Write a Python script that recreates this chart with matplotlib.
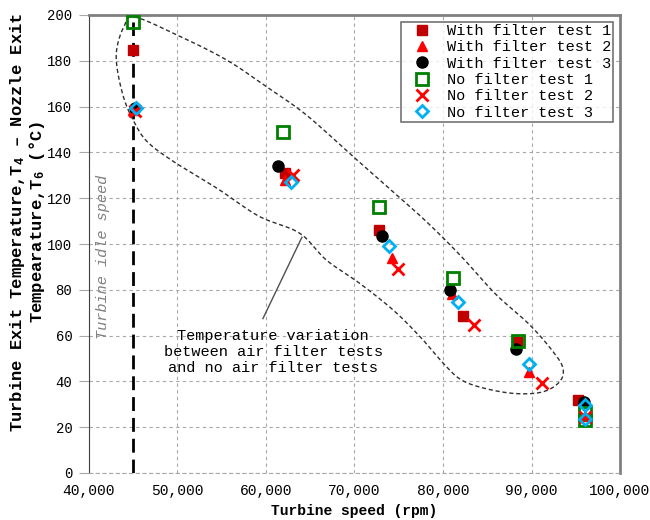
import numpy as np
import matplotlib
matplotlib.use("Agg")
import matplotlib.pyplot as plt
from matplotlib.ticker import FuncFormatter

plt.rcParams['font.family'] = ['Liberation Mono', 'DejaVu Sans']
plt.rcParams['mathtext.fontset'] = 'custom'
plt.rcParams['mathtext.rm'] = 'Liberation Mono'
plt.rcParams['mathtext.bf'] = 'Liberation Mono:bold'
plt.rcParams['mathtext.it'] = 'Liberation Mono:italic'

# ---- data ----
wf1_x = [45000, 62200, 72800, 82300, 88400, 95300]
wf1_y = [184.5, 131, 106, 68.5, 57, 32]
wf2_x = [45000, 62200, 74200, 81000, 89700, 96000]
wf2_y = [158.5, 128, 94, 78, 44, 25]
wf3_x = [45200, 61400, 73100, 80800, 88300, 95900]
wf3_y = [159.5, 134, 103.5, 80, 54, 31]
nf1_x = [45000, 61900, 72800, 81100, 88500, 96000, 96000]
nf1_y = [197, 149, 116, 85, 57.5, 26, 23]
nf2_x = [45200, 63000, 74900, 83500, 91200, 96000]
nf2_y = [158, 130, 89, 64.5, 39.5, 24.5]
nf3_x = [45300, 62800, 73900, 81700, 89700, 96000, 96000]
nf3_y = [159.5, 127, 99, 74.5, 47.5, 29.5, 23.5]

idle_speed = 45000
idle_top = 197

x_ticks = [40000, 50000, 60000, 70000, 80000, 90000, 100000]
y_ticks = [0, 20, 40, 60, 80, 100, 120, 140, 160, 180, 200]

fig = plt.figure(figsize=(6.5, 5.2), dpi=100)
ax = fig.add_axes([89/650, 1-473/520, (620-89)/650, (473-15)/520])

ax.set_xlim(40000, 100000)
ax.set_ylim(0, 200)
ax.set_xticks(x_ticks)
ax.set_yticks(y_ticks)
ax.xaxis.set_major_formatter(FuncFormatter(lambda v, p: f"{int(v):,}"))
ax.grid(True, color='#a8a8a8', linestyle=(0, (3, 3)), linewidth=0.8)
ax.set_axisbelow(True)
ax.tick_params(axis='x', labelsize=10.5, length=0, pad=8)
ax.tick_params(axis='y', labelsize=10, length=7, width=0.8, color='#a8a8a8', pad=5)
for s in ['top', 'right']:
    ax.spines[s].set_color('#808080')
    ax.spines[s].set_linewidth(2)
ax.spines['left'].set_color('#404040')
ax.spines['left'].set_linewidth(0.8)
ax.spines['left'].set_linestyle((0, (1, 1)))
ax.spines['bottom'].set_color('#a8a8a8')
ax.spines['bottom'].set_linewidth(0.8)
ax.spines['bottom'].set_linestyle((0, (3, 3)))

# idle line
ax.plot([idle_speed, idle_speed], [0, idle_top], color='black', lw=2,
        linestyle=(0, (5, 2.5)), zorder=2)
ax.text(41600, 94.3, 'Turbine idle speed', rotation=90, style='italic',
        color='#808080', fontsize=11, ha='center', va='center')

ax.plot(wf1_x, wf1_y, 's', color='#C00000', ms=7, label='With filter test 1', zorder=3)
ax.plot(wf2_x, wf2_y, '^', color='#FF0000', ms=7, label='With filter test 2', zorder=3)
ax.plot(wf3_x, wf3_y, 'o', color='black', ms=8, label='With filter test 3', zorder=3)
ax.plot(nf1_x, nf1_y, 's', mfc='none', mec='#008000', mew=2, ms=9, label='No filter test 1', zorder=3)
ax.plot(nf2_x, nf2_y, 'x', color='#FF0000', mew=2, ms=8, label='No filter test 2', zorder=3)
ax.plot(nf3_x, nf3_y, 'D', mfc='none', mec='#00B0F0', mew=2, ms=6.5, label='No filter test 3', zorder=4)

leg = ax.legend(loc='upper right', fontsize=11, frameon=True, fancybox=False,
                borderaxespad=0.45, handletextpad=0.35, labelspacing=0.15,
                borderpad=0.15, handlelength=2.5, numpoints=1)
leg.get_frame().set_edgecolor('#505050')
leg.get_frame().set_linewidth(1.2)

# enclosing dashed loop (annotation outline, in axes-fraction via pixel calibration)
loop = np.array([(130, 50), (250, 100), (400, 175), (520, 255), (640, 340), (775, 460),
                 (900, 570), (1000, 660), (1100, 760), (1200, 870), (1300, 960),
                 (1370, 1040), (1400, 1090), (1390, 1130), (1340, 1160), (1260, 1165),
                 (1170, 1150), (1100, 1125), (1050, 1080), (980, 1000), (900, 920),
                 (800, 840), (700, 770), (620, 690), (500, 640), (380, 560), (250, 480),
                 (170, 420), (130, 360), (100, 290), (80, 200), (80, 140), (100, 80)], float)
px = 90 + loop[:, 0] / 2.96
py = loop[:, 1] / 2.96
fx = (px - 89) / (620 - 89)
fy = (473 - py) / (473 - 15)

def catmull(xs, ys, n=20):
    P = np.column_stack([xs, ys])
    N = len(P)
    out = []
    for i in range(N):
        p0, p1, p2, p3 = P[(i-1) % N], P[i], P[(i+1) % N], P[(i+2) % N]
        t = np.linspace(0, 1, n, endpoint=False)[:, None]
        pts = 0.5 * ((2*p1) + (-p0 + p2)*t + (2*p0 - 5*p1 + 4*p2 - p3)*t**2 + (-p0 + 3*p1 - 3*p2 + p3)*t**3)
        out.append(pts)
    out = np.vstack(out)
    return np.vstack([out, out[:1]])

cl = catmull(fx, fy)
ax.plot(cl[:, 0], cl[:, 1], transform=ax.transAxes, color='#303030', lw=1,
        linestyle=(0, (3, 2)), zorder=2)

# leader line
lx = (np.array([262.9, 301.9]) - 89) / (620 - 89)
ly = (473 - np.array([318.6, 237.3])) / (473 - 15)
ax.plot(lx, ly, transform=ax.transAxes, color='#505050', lw=1, zorder=2)
ax.text((273 - 89) / (620 - 89), (473 - 352) / (473 - 15),
        'Temperature variation\nbetween air filter tests\nand no air filter tests',
        transform=ax.transAxes, ha='center', va='center', multialignment='center',
        fontsize=11, linespacing=1.15)

ax.set_xlabel('Turbine speed (rpm)', fontsize=10.5, fontweight='bold', labelpad=4)
ax.set_ylabel('Turbine Exit Temperature,T$_\\mathbf{4}$ – Nozzle Exit\nTempearature,T$_\\mathbf{6}$ (°C)',
              fontsize=12.3, fontweight='bold', linespacing=1.0)
ax.yaxis.set_label_coords((47 - 89) / (620 - 89), (473 - 222) / (473 - 15))

fig.savefig('out.png', dpi=100)
